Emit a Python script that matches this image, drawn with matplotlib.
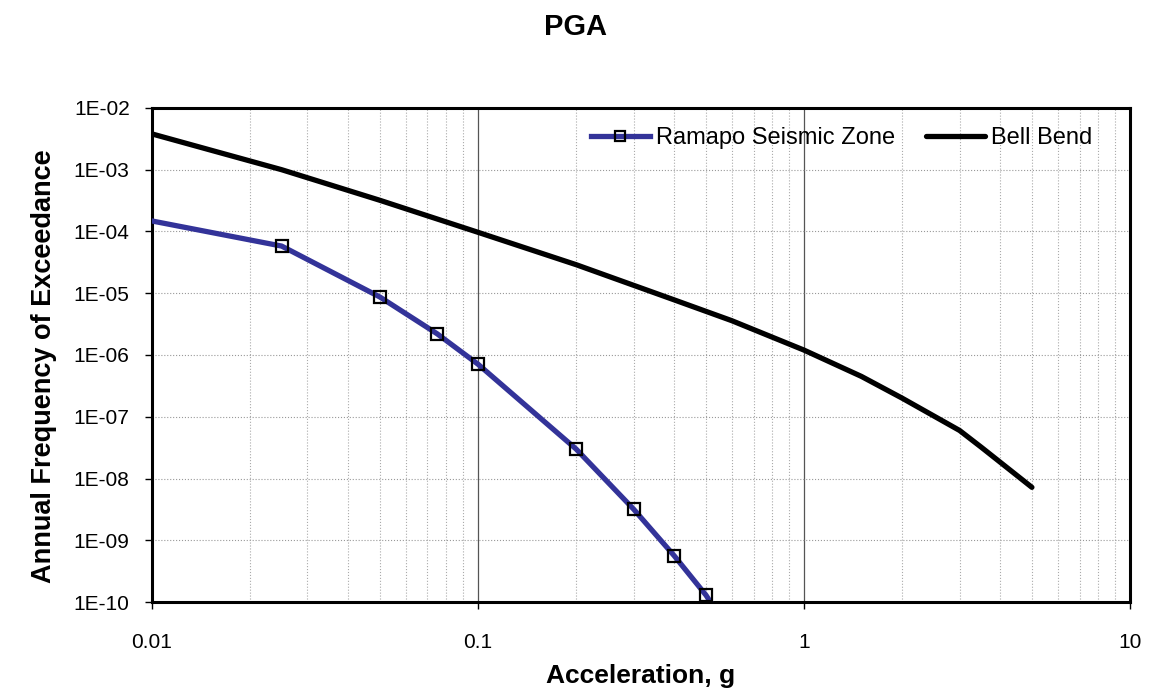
import matplotlib
matplotlib.use("Agg")
import matplotlib.pyplot as plt
from matplotlib.ticker import LogLocator, FixedLocator, NullFormatter, NullLocator

plt.rcParams['font.family'] = ['Liberation Sans', 'DejaVu Sans']

# hazard curves, acceleration in g vs annual frequency of exceedance
ramapo_g = [0.01, 0.025, 0.05, 0.075, 0.1, 0.2, 0.3, 0.4, 0.5, 0.75]
ramapo_afe = [1.48e-4, 5.8e-5, 8.7e-6, 2.2e-6, 7.1e-7, 3.0e-8, 3.2e-9, 5.6e-10, 1.3e-10, 5e-12]

bell_g = [0.01, 0.025, 0.05, 0.1, 0.2, 0.4, 0.6, 1.0, 1.5, 2.0, 3.0, 3.5, 5.0]
bell_afe = [3.8e-3, 1.0e-3, 3.2e-4, 9.7e-5, 2.9e-5, 7.8e-6, 3.6e-6, 1.2e-6,
            4.5e-7, 2.0e-7, 6.0e-8, 3.2e-8, 7.2e-9]

x_ticks = [0.01, 0.1, 1, 10]
x_tick_labels = ['0.01', '0.1', '1', '10']
y_ticks = [1e-10, 1e-9, 1e-8, 1e-7, 1e-6, 1e-5, 1e-4, 1e-3, 1e-2]
y_tick_labels = ['1E-10', '1E-09', '1E-08', '1E-07', '1E-06', '1E-05', '1E-04', '1E-03', '1E-02']

fig = plt.figure(figsize=(11.51, 6.92), dpi=100)
ax = fig.add_axes([0.132, 0.130, 0.8498, 0.714])

ax.plot(ramapo_g, ramapo_afe, color='#333399', lw=3.8, marker='s', ms=8,
        mfc='none', mec='black', mew=1.6, markevery=list(range(1, len(ramapo_g))),
        label='Ramapo Seismic Zone', zorder=3)
ax.plot(bell_g, bell_afe, color='black', lw=3.8, solid_capstyle='round',
        label='Bell Bend', zorder=3)

ax.set_xscale('log')
ax.set_yscale('log')
ax.set_xlim(0.01, 10)
ax.set_ylim(1e-10, 1e-2)

ax.xaxis.set_major_locator(FixedLocator(x_ticks))
ax.set_xticklabels(x_tick_labels)
ax.xaxis.set_minor_locator(LogLocator(base=10, subs=range(2, 10)))
ax.xaxis.set_minor_formatter(NullFormatter())
ax.yaxis.set_major_locator(FixedLocator(y_ticks))
ax.set_yticklabels(y_tick_labels)
ax.yaxis.set_minor_locator(NullLocator())

ax.grid(True, which='major', axis='x', color='#555555', lw=0.9, ls='-')
ax.grid(True, which='minor', axis='x', color='#aaaaaa', lw=0.8, ls=':')
ax.grid(True, which='major', axis='y', color='#999999', lw=0.8, ls=':')
ax.set_axisbelow(True)

ax.tick_params(axis='both', which='major', direction='out', length=5, width=1,
               labelsize=15)
ax.tick_params(axis='y', which='major', pad=11)
ax.tick_params(axis='x', which='major', pad=17)
ax.tick_params(axis='x', which='minor', length=0)

for s in ax.spines.values():
    s.set_linewidth(2.2)
    s.set_color('black')

ax.set_xlabel('Acceleration, g', fontsize=19, fontweight='bold', labelpad=9)
ax.set_ylabel('Annual Frequency of Exceedance', fontsize=19.5, fontweight='bold', labelpad=12)
ax.yaxis.label.set_y(0.478)
fig.suptitle('PGA', fontsize=21, fontweight='bold', y=0.981)

ax.legend(loc='upper right', bbox_to_anchor=(0.961, 0.961), ncol=2, frameon=False,
          fontsize=17, handlelength=2.5, handletextpad=0.25, columnspacing=1.3,
          borderaxespad=0, borderpad=0, markerscale=0.9)

fig.savefig('out.png', dpi=100)
